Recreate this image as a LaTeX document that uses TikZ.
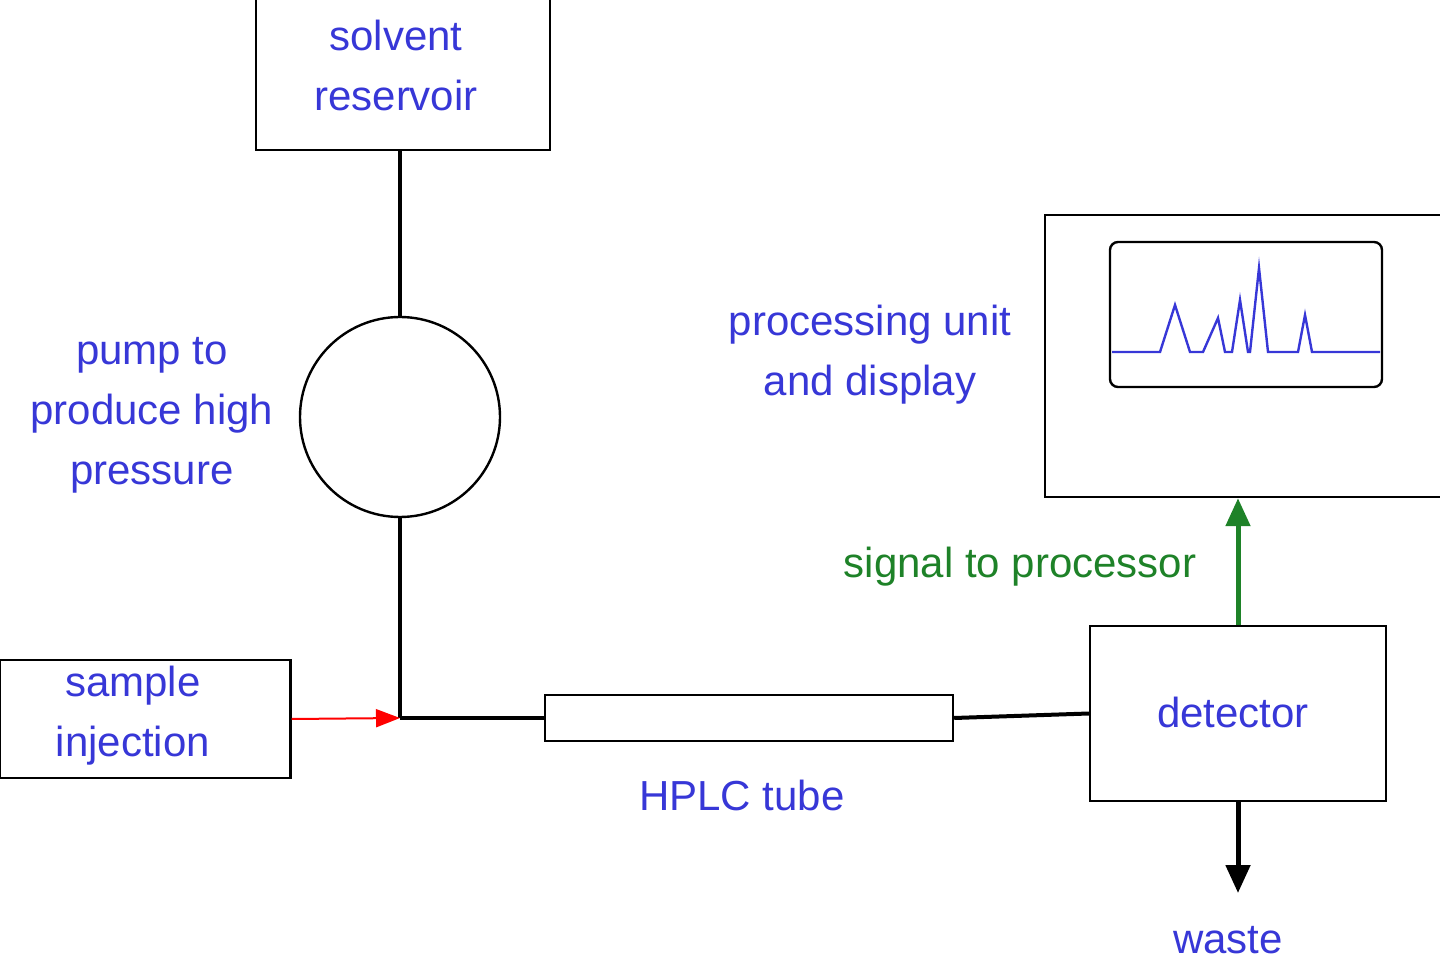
\documentclass[tikz,border=0pt]{standalone}
\usepackage{fontspec}
\setmainfont{Liberation Sans}
\usetikzlibrary{arrows.meta}
\definecolor{txtblue}{RGB}{55,55,215}
\definecolor{sig}{RGB}{30,130,40}
\begin{document}
\begin{tikzpicture}[x=0.5pt,y=-0.5pt,
  box/.style={draw,line width=1.2pt},
  pipe/.style={line width=2pt},
  lbl/.style={text=txtblue,font=\fontsize{21}{30}\selectfont,align=center,inner sep=0pt}]
\useasboundingbox (0,0) rectangle (1440,967);
\draw[box] (256,-2) rectangle (550,150) node[coordinate] (resb) {};
\node[lbl] (res) at (396,65) {solvent\\reservoir};
\coordinate (resbot) at (400,150);
\node[draw,circle,line width=1.2pt,minimum size=100pt,inner sep=0pt] (pump) at (400,417) {};
\coordinate (junc) at (400,718);
\node[draw,line width=1.2pt,minimum width=145.5pt,minimum height=59pt,inner sep=0pt] (inj) at (145,719) {};
\node[lbl] at (133,716) {sample\\injection};
\node[draw,line width=1.2pt,minimum width=204pt,minimum height=23pt,inner sep=0pt] (tube) at (749,718) {};
\node[draw,line width=1.2pt,minimum width=148pt,minimum height=87.5pt,inner sep=0pt] (det) at (1238,713.5) {};
\node[lbl] at (1233,712) {detector};
\node[draw,line width=1.2pt,minimum width=200pt,minimum height=141pt,inner sep=0pt] (proc) at (1245,356) {};
\draw[line width=1.2pt,rounded corners=4pt] (1110,242) rectangle (1382,387);
\draw[txtblue,line width=1.2pt] (1112,352) -- (1160,352) -- (1175,305) -- (1190,352) -- (1203,352) -- (1218,318) -- (1225,352) -- (1232,352) -- (1240,300) -- (1248,352) -- (1250,352) -- (1259,268) -- (1268,352) -- (1298,352) -- (1305,315) -- (1312,352) -- (1380,352);
\draw[pipe] (resbot) -- (pump.north);
\draw[pipe] (pump.south) -- (junc);
\draw[pipe] (junc) -- (tube.west);
\draw[pipe] (tube.east) -- (det.west);
\draw[red,line width=1pt,-{Triangle[length=12pt,width=9pt]}] (inj.east) -- (junc);
\draw[sig,line width=2.5pt,-{Triangle[length=14pt,width=12pt]}] (det.north) -- (proc.south -| det.north);
\coordinate (wst) at (1238,893);
\draw[line width=2.5pt,-{Triangle[length=14pt,width=12pt]}] (det.south) -- (wst);
\node[lbl] at (152,415) {pump to\\produce high\\pressure};
\node[lbl] at (870,355) {processing unit\\and display};
\node[lbl,text=sig] at (1020,567) {signal to processor};
\node[lbl] at (742,795) {HPLC tube};
\node[lbl] at (1228,940) {waste};
\end{tikzpicture}
\end{document}
